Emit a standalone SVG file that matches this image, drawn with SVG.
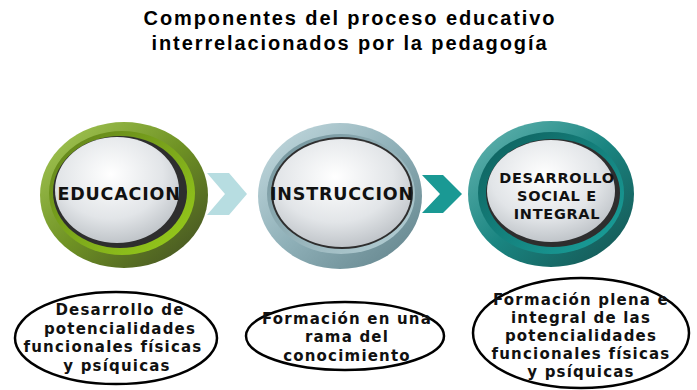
<svg xmlns="http://www.w3.org/2000/svg" width="697" height="390" viewBox="0 0 697 390">
<defs>
<linearGradient id="g1o" x1="0" y1="0" x2="1" y2="1"><stop offset="0" stop-color="#a9cc5a"/><stop offset="0.5" stop-color="#6f9224"/><stop offset="1" stop-color="#3f4a22"/></linearGradient>
<linearGradient id="g1r" x1="0" y1="0" x2="1" y2="1"><stop offset="0" stop-color="#5f7f1c"/><stop offset="1" stop-color="#9ad01a"/></linearGradient>
<linearGradient id="g2o" x1="0" y1="0" x2="1" y2="1"><stop offset="0" stop-color="#c8dde2"/><stop offset="0.5" stop-color="#8fb0b8"/><stop offset="1" stop-color="#5f8088"/></linearGradient>
<linearGradient id="g2r" x1="0" y1="0" x2="1" y2="1"><stop offset="0" stop-color="#6f9098"/><stop offset="1" stop-color="#b8d2d8"/></linearGradient>
<linearGradient id="g3o" x1="0" y1="0" x2="1" y2="1"><stop offset="0" stop-color="#6ab8b4"/><stop offset="0.5" stop-color="#1a8581"/><stop offset="1" stop-color="#14504e"/></linearGradient>
<linearGradient id="g3r" x1="0" y1="0" x2="1" y2="1"><stop offset="0" stop-color="#0e5e5b"/><stop offset="1" stop-color="#1aa39e"/></linearGradient>
<radialGradient id="gin" cx="0.45" cy="0.35" r="0.7"><stop offset="0" stop-color="#ffffff"/><stop offset="0.6" stop-color="#e2e5e8"/><stop offset="1" stop-color="#b9bec3"/></radialGradient>
<style>
.t{font-family:"Liberation Sans",Arial,sans-serif;font-weight:bold;font-size:20px;letter-spacing:1.9px;fill:#000;text-anchor:middle}
.n{font-family:"DejaVu Sans",Verdana,sans-serif;font-weight:bold;font-size:17.5px;letter-spacing:0.8px;fill:#111;text-anchor:middle}
.m{font-family:"DejaVu Sans",Verdana,sans-serif;font-weight:bold;font-size:14.5px;letter-spacing:0.7px;fill:#111;text-anchor:middle}
.b{font-family:"DejaVu Sans",Verdana,sans-serif;font-weight:bold;font-size:15px;letter-spacing:1.2px;fill:#111;text-anchor:middle}
.e{fill:#fff;stroke:#000;stroke-width:2.5}
.sh{fill:#2e2e2e}
</style>
</defs>
<rect width="697" height="390" fill="#fff"/>
<g id="title">
<text class="t" x="350" y="25">Componentes del proceso educativo</text>
<text class="t" x="350" y="50">interrelacionados por la pedagogía</text>
</g>
<g id="connectors">
<polygon points="207,173 229,173 247,194 229,215 207,215 225,194" fill="#b7dde1"/>
<polygon points="422,175 443,175 462,194 443,213 422,213 440,194" fill="#1a9994"/>
</g>
<g id="n-educacion">
<ellipse cx="124" cy="195" rx="84" ry="73" fill="url(#g1o)"/>
<ellipse cx="122" cy="193" rx="73" ry="62" fill="url(#g1r)"/>
<ellipse cx="120" cy="192" rx="67" ry="56" class="sh"/>
<ellipse cx="117" cy="190" rx="62" ry="53" fill="url(#gin)"/>
<text class="n" x="119" y="200">EDUCACION</text>
</g>
<g id="n-instruccion">
<ellipse cx="340" cy="196" rx="82" ry="73" fill="url(#g2o)"/>
<ellipse cx="341" cy="194" rx="74" ry="60" fill="url(#g2r)"/>
<ellipse cx="342" cy="193" rx="71" ry="56" fill="#2e2e2e"/>
<ellipse cx="342" cy="193" rx="69" ry="54" fill="url(#gin)"/>
<text class="n" x="342" y="200">INSTRUCCION</text>
</g>
<g id="n-desarrollo">
<ellipse cx="551" cy="194" rx="83" ry="73" fill="url(#g3o)"/>
<ellipse cx="551" cy="193" rx="73" ry="61" fill="url(#g3r)"/>
<ellipse cx="553" cy="193" rx="67" ry="54" class="sh"/>
<ellipse cx="551" cy="191" rx="64" ry="51" fill="url(#gin)"/>
<text class="m" x="557" y="183">DESARROLLO</text>
<text class="m" x="557" y="201">SOCIAL E</text>
<text class="m" x="557" y="219">INTEGRAL</text>
</g>
<g id="d-educacion">
<ellipse class="e" cx="116" cy="338" rx="101" ry="46"/>
<text class="b" x="120" y="315">Desarrollo de</text>
<text class="b" x="120" y="334">potencialidades</text>
<text class="b" x="113" y="352">funcionales físicas</text>
<text class="b" x="117" y="371">y psíquicas</text>
</g>
<g id="d-instruccion">
<ellipse class="e" cx="345" cy="336" rx="99" ry="34"/>
<text class="b" x="347" y="324">Formación en una</text>
<text class="b" x="347" y="342">rama del</text>
<text class="b" x="347" y="361">conocimiento</text>
</g>
<g id="d-desarrollo">
<ellipse class="e" cx="581" cy="333" rx="108" ry="55"/>
<text class="b" x="581" y="305">Formación plena e</text>
<text class="b" x="581" y="323">integral de las</text>
<text class="b" x="581" y="341">potencialidades</text>
<text class="b" x="581" y="359">funcionales físicas</text>
<text class="b" x="581" y="377">y psíquicas</text>
</g>
</svg>
